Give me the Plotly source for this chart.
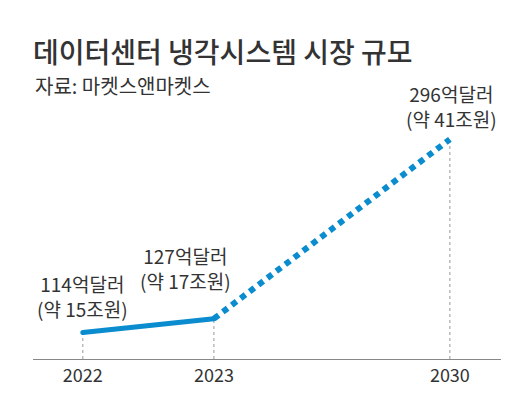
import plotly.graph_objects as go

# Data
years = ["2022", "2023", "2030"]
market_usd = [114, 127, 296]          # 억달러
market_krw = [15, 17, 41]             # 조원 (approx.)

# axis position of each year (uneven spacing as in the original graphic)
x_pos = [0, 1, 2.8]
Y_MIN, Y_MAX = 89, 333

BLUE = "#0a8ccf"
TEXT = "#333333"
FONT = "Noto Sans CJK KR"

# page body keeps its default 8px margin, so the figure is a bit smaller
W, H = 511, 391

fig = go.Figure()

# actual: solid thick line 2022-2023
fig.add_trace(go.Scatter(
    x=x_pos[:2], y=market_usd[:2],
    mode="lines+markers",
    line=dict(color=BLUE, width=5),
    marker=dict(color=BLUE, size=5),
    hoverinfo="skip",
))

# forecast: dotted line 2023-2030
fig.add_trace(go.Scatter(
    x=x_pos[1:], y=market_usd[1:],
    mode="lines",
    line=dict(color=BLUE, width=6, dash="6px,5.2px"),
    hoverinfo="skip",
))

# thin dotted guides down to the axis
for xp, v in zip(x_pos, market_usd):
    fig.add_shape(type="line", xref="x", yref="y",
                  x0=xp, x1=xp, y0=Y_MIN, y1=v,
                  line=dict(color="#999999", width=1, dash="dot"),
                  layer="below")

# value labels
label_shift = [(0, 8), (-28, 23), (2, 5)]
for xp, v, k, (dx, dy) in zip(x_pos, market_usd, market_krw, label_shift):
    fig.add_annotation(
        x=xp, y=v, xref="x", yref="y",
        text=f"{v}억달러<br>(약 {k}조원)", showarrow=False,
        xanchor="center", yanchor="bottom",
        xshift=dx, yshift=dy,
        font=dict(family=FONT, size=19, color=TEXT),
    )

# source line
fig.add_annotation(
    x=0, y=(357 - 77) / 265, xref="paper", yref="paper",
    text="자료: 마켓스앤마켓스", showarrow=False,
    xanchor="left", yanchor="middle",
    font=dict(family=FONT, size=20, color=TEXT),
)

fig.update_layout(
    width=W, height=H,
    margin=dict(l=25, r=18, t=92, b=34),
    paper_bgcolor="white", plot_bgcolor="white",
    showlegend=False,
    title=dict(
        text="데이터센터 냉각시스템 시장 규모",
        x=25 / W, xanchor="left", xref="container",
        y=1 - 45.5 / H, yanchor="middle", yref="container",
        font=dict(family="Noto Sans CJK KR Medium, " + FONT, size=28, color=TEXT),
    ),
)

fig.update_xaxes(
    range=[-0.38, 3.19],
    tickvals=x_pos, ticktext=years,
    showgrid=False, zeroline=False,
    showline=True, linecolor="#888888", linewidth=1,
    ticks="", tickfont=dict(family=FONT, size=18, color=TEXT),
    fixedrange=True,
)
fig.update_yaxes(
    range=[Y_MIN, Y_MAX],
    visible=False, showgrid=False, zeroline=False,
    fixedrange=True,
)

fig.write_html("out.html")
